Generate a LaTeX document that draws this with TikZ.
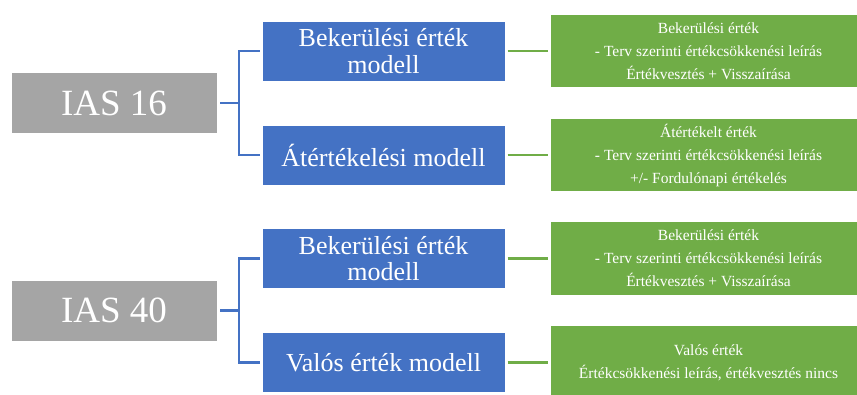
\documentclass[tikz,border=0pt]{standalone}
\usepackage{fontspec}
\setmainfont{Liberation Serif}
\newfontfamily\timesfont{Liberation Serif}
\definecolor{iasgray}{HTML}{A5A5A5}
\definecolor{modelblue}{HTML}{4472C4}
\definecolor{valuegreen}{HTML}{70AD47}

\begin{document}
\begin{tikzpicture}[x=1pt,y=1pt,grow'=right,
  ias/.style={rectangle,draw=white,fill=iasgray,text=white,minimum width=206pt,minimum height=61pt,inner sep=0pt,outer sep=3pt,font=\timesfont\fontsize{37}{37}\selectfont},
  model/.style={rectangle,draw=white,fill=modelblue,text=white,minimum width=243pt,minimum height=60pt,inner sep=0pt,outer sep=2.5pt,align=center,font=\timesfont\fontsize{26}{26.5}\selectfont},
  value/.style={rectangle,draw=white,fill=valuegreen,text=white,minimum width=317pt,minimum height=75pt,inner sep=0pt,outer sep=2.5pt,align=center,font=\timesfont\fontsize{15.5}{23}\selectfont},
  level 1/.style={level distance=269.5pt,sibling distance=104pt},
  level 2/.style={level distance=325pt},
  edge from parent path={(\tikzparentnode.east) -- +(19pt,0) |- (\tikzchildnode.west)}]
\useasboundingbox (0,0) rectangle (857,-395);
\node [ias] (i16) at (114,-103) {IAS 16}
  child {node [model] (b16) {Bekerülési érték\\modell}
    child {node [value] (bv16) {Bekerülési érték\\- Terv szerinti értékcsökkenési leírás\\Értékvesztés + Visszaírása}
      edge from parent [draw=valuegreen,line width=2.5pt]}
    edge from parent [draw=modelblue,line width=2.5pt]
  }
  child {node [model] (a16) {Átértékelési modell}
    child {node [value] (av16) {Átértékelt érték\\- Terv szerinti értékcsökkenési leírás\\+/- Fordulónapi értékelés}
      edge from parent [draw=valuegreen,line width=2.5pt]}
    edge from parent [draw=modelblue,line width=2.5pt]
  };
\node [ias] (i40) at (114,-310.5) {IAS 40}
  child {node [model] (b40) {Bekerülési érték\\modell}
    child {node [value] (bv40) {Bekerülési érték\\- Terv szerinti értékcsökkenési leírás\\Értékvesztés + Visszaírása}
      edge from parent [draw=valuegreen,line width=2.5pt]}
    edge from parent [draw=modelblue,line width=2.5pt]
  }
  child {node [model] (v40) {Valós érték modell}
    child {node [value] (vv40) {Valós érték\\Értékcsökkenési leírás, értékvesztés nincs}
      edge from parent [draw=valuegreen,line width=2.5pt]}
    edge from parent [draw=modelblue,line width=2.5pt]
  };
\end{tikzpicture}
\end{document}
